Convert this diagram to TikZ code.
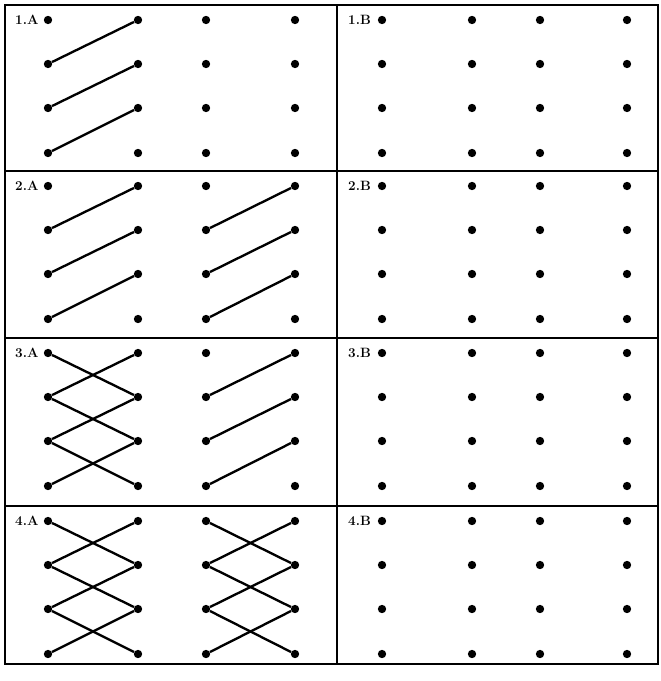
\documentclass[tikz,border=0pt]{standalone}
\usetikzlibrary{positioning}
\begin{document}
\begin{tikzpicture}[
  x=0.03cm, y=-0.03cm,
  dot/.style={circle, fill=black, inner sep=0pt, minimum size=0.25cm},
  link/.style={line width=2pt},
  frame/.style={line width=1.6pt},
  tag/.style={font=\fontsize{11.5}{13}\selectfont\bfseries, anchor=west, inner sep=0pt},
]
\useasboundingbox (0,0) rectangle (660,681);

% Frame
\draw[frame] (5,5) rectangle (658,664);
\draw[frame] (337,5) -- (337,664);
\foreach \y in {171,338,506} \draw[frame] (5,\y) -- (658,\y);

% Dots and labels
\foreach \p/\t in {1/5,2/171,3/338,4/506} {
  \node[tag] (tagA\p) at (15,\t+15) {\p.A};
  \node[tag] (tagB\p) at (348,\t+15) {\p.B};
  \foreach \r/\dy in {1/15,2/59,3/103,4/148} {
    \foreach \c/\x in {1/48,2/138,3/206,4/295}
      \node[dot] (A\p-\c\r) at (\x,\t+\dy) {};
    \foreach \c/\x in {1/382,2/472,3/540,4/627}
      \node[dot] (B\p-\c\r) at (\x,\t+\dy) {};
  }
}

% 1.A
\foreach \r/\s in {1/2,2/3,3/4}
  \draw[link] (A1-1\s) -- (A1-2\r);

% 2.A
\foreach \r/\s in {1/2,2/3,3/4} {
  \draw[link] (A2-1\s) -- (A2-2\r);
  \draw[link] (A2-3\s) -- (A2-4\r);
}

% 3.A
\foreach \r/\s in {1/2,2/3,3/4} {
  \draw[link] (A3-1\r) -- (A3-2\s);
  \draw[link] (A3-1\s) -- (A3-2\r);
  \draw[link] (A3-3\s) -- (A3-4\r);
}

% 4.A
\foreach \r/\s in {1/2,2/3,3/4} {
  \draw[link] (A4-1\r) -- (A4-2\s);
  \draw[link] (A4-1\s) -- (A4-2\r);
  \draw[link] (A4-3\r) -- (A4-4\s);
  \draw[link] (A4-3\s) -- (A4-4\r);
}

\end{tikzpicture}
\end{document}
